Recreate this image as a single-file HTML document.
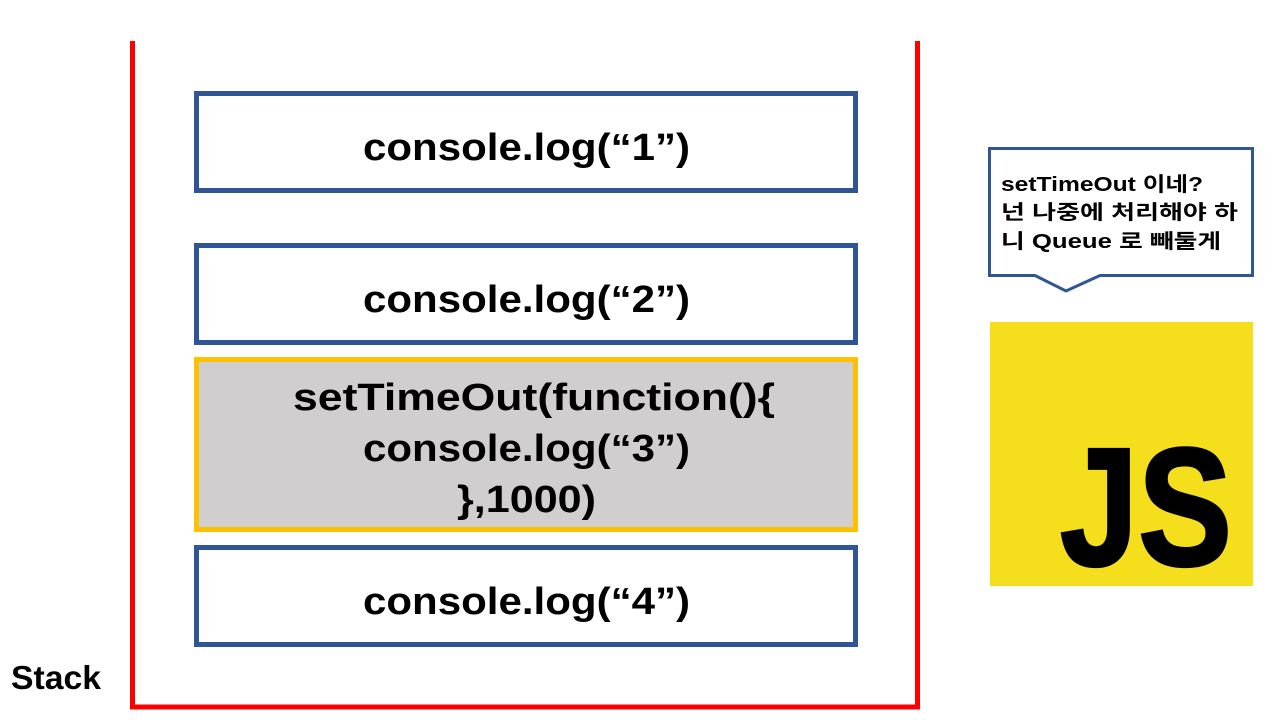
<!DOCTYPE html>
<html><head><meta charset="utf-8"><style>
html,body{margin:0;padding:0;background:#fff;width:1280px;height:720px;overflow:hidden}
svg{display:block}
text{font-family:"Liberation Sans","Noto Sans CJK KR",sans-serif;font-weight:bold;fill:#000}
</style></head><body>
<svg width="1280" height="720" viewBox="0 0 1280 720">
<polyline points="132.5,41 132.5,707 917.5,707 917.5,41" fill="none" stroke="#ff0000" stroke-width="5"/>
<rect x="196.5" y="93.5" width="659" height="97" fill="#fff" stroke="#2f5597" stroke-width="5"/>
<rect x="196.5" y="245.5" width="659" height="97" fill="#fff" stroke="#2f5597" stroke-width="5"/>
<rect x="196.5" y="359.5" width="659" height="170" fill="#d0cece" stroke="#ffc000" stroke-width="5"/>
<rect x="196.5" y="547.5" width="659" height="97" fill="#fff" stroke="#2f5597" stroke-width="5"/>
<g font-size="38" text-anchor="start">
<text x="363" y="160" textLength="327" lengthAdjust="spacingAndGlyphs">console.log(“1”)</text>
<text x="363" y="312" textLength="327" lengthAdjust="spacingAndGlyphs">console.log(“2”)</text>
<text x="293" y="410" textLength="482" lengthAdjust="spacingAndGlyphs">setTimeOut(function(){</text>
<text x="363" y="461" textLength="327" lengthAdjust="spacingAndGlyphs">console.log(“3”)</text>
<text x="457" y="512" textLength="139" lengthAdjust="spacingAndGlyphs">},1000)</text>
<text x="363" y="614" textLength="327" lengthAdjust="spacingAndGlyphs">console.log(“4”)</text>
</g>
<text x="11" y="689" font-size="33" textLength="90" lengthAdjust="spacingAndGlyphs">Stack</text>
<polygon points="989.5,148.5 1252.5,148.5 1252.5,275.5 1100,275.5 1066,291 1035,275.5 989.5,275.5" fill="#fff" stroke="#2f5597" stroke-width="3"/>
<g font-size="20">
<text x="1001" y="191" textLength="202" lengthAdjust="spacingAndGlyphs">setTimeOut 이네?</text>
<text x="1001" y="219" textLength="237" lengthAdjust="spacingAndGlyphs">넌 나중에 처리해야 하</text>
<text x="1001" y="248" textLength="220" lengthAdjust="spacingAndGlyphs">니 Queue 로 빼둘게</text>
</g>
<rect x="990" y="322" width="263" height="264" fill="#f5de1c"/>
<text x="1060" y="565" font-size="168" textLength="172" lengthAdjust="spacingAndGlyphs" stroke="#000" stroke-width="3">JS</text>
</svg>
</body></html>
